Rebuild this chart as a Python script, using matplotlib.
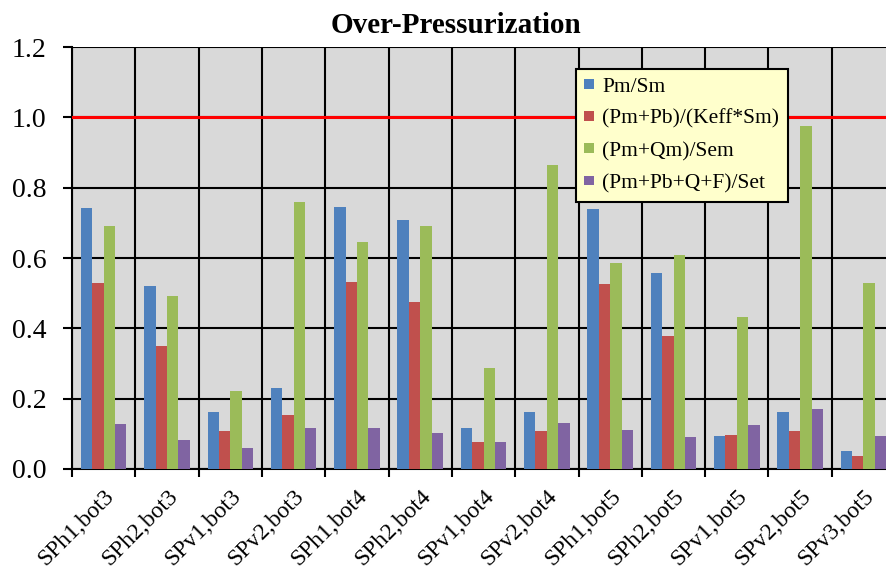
import numpy as np
import matplotlib
matplotlib.use("Agg")
import matplotlib.pyplot as plt

plt.rcParams['font.family'] = ['Liberation Serif', 'DejaVu Serif']

categories = ["SPh1,bot3", "SPh2,bot3", "SPv1,bot3", "SPv2,bot3",
              "SPh1,bot4", "SPh2,bot4", "SPv1,bot4", "SPv2,bot4",
              "SPh1,bot5", "SPh2,bot5", "SPv1,bot5", "SPv2,bot5", "SPv3,bot5"]
pm_sm = [0.743, 0.521, 0.162, 0.231, 0.744, 0.709, 0.117, 0.162, 0.740, 0.556, 0.094, 0.161, 0.051]
pm_pb_keff = [0.530, 0.350, 0.109, 0.154, 0.532, 0.474, 0.078, 0.108, 0.525, 0.378, 0.096, 0.108, 0.037]
pm_qm_sem = [0.691, 0.493, 0.222, 0.758, 0.645, 0.691, 0.287, 0.865, 0.586, 0.609, 0.433, 0.975, 0.528]
pm_pb_q_f_set = [0.128, 0.082, 0.060, 0.116, 0.117, 0.102, 0.076, 0.132, 0.112, 0.090, 0.125, 0.171, 0.095]

series = [pm_sm, pm_pb_keff, pm_qm_sem, pm_pb_q_f_set]
labels = ["Pm/Sm", "(Pm+Pb)/(Keff*Sm)", "(Pm+Qm)/Sem", "(Pm+Pb+Q+F)/Set"]
colors = ["#4F81BD", "#C0504D", "#9BBB59", "#8064A2"]

fig = plt.figure(figsize=(8.86, 5.78), dpi=100)
ax = fig.add_axes([0.0813, 0.1886, 0.929, 0.730])
ax.set_facecolor("#D9D9D9")

n = len(categories)
x = np.arange(n)
w = 0.18
for i, (vals, lab, col) in enumerate(zip(series, labels, colors)):
    ax.bar(x + (i - 1.5) * w, vals, width=w, color=col, label=lab, zorder=3)

ax.axhline(1.0, color="#FF0000", lw=2.2, zorder=4)

ax.set_xlim(-0.5, n - 0.5)
ax.set_ylim(0, 1.2)
yt = np.arange(0, 1.21, 0.2)
ax.set_yticks(yt)
ax.set_yticklabels([f"{v:.1f}" for v in yt], fontsize=20)
ax.set_xticks(x)
ax.set_xticklabels(categories, rotation=45, ha="right", rotation_mode="anchor", fontsize=17)
ax.set_xticks(np.arange(-0.5, n, 1.0), minor=True)
ax.tick_params(axis="x", which="major", length=0, pad=12)
ax.tick_params(axis="x", which="minor", length=6, width=1.5, direction="out")
ax.tick_params(axis="y", length=6.5, width=1.5, direction="out", pad=12)

ax.grid(True, which="minor", axis="x", color="black", lw=1.5, zorder=1)
ax.grid(True, which="major", axis="y", color="black", lw=1.5, zorder=1)
for s in ["top", "right"]:
    ax.spines[s].set_visible(False)
for s in ["left", "bottom"]:
    ax.spines[s].set_linewidth(1.5)

fig.text(0.515, 0.943, "Over-Pressurization", fontsize=21, fontweight="bold",
         ha="center", va="baseline")

leg = ax.legend(loc="upper left", bbox_to_anchor=(0.612, 0.948), borderaxespad=0,
                fontsize=15.5, frameon=True, fancybox=False, facecolor="#FFFFCC",
                edgecolor="black", framealpha=1, handlelength=0.47, handleheight=0.33,
                handletextpad=0.35, labelspacing=0.6, borderpad=0.4)
leg.get_frame().set_linewidth(1.5)
leg.set_zorder(5)

fig.savefig("out.png", dpi=100)
